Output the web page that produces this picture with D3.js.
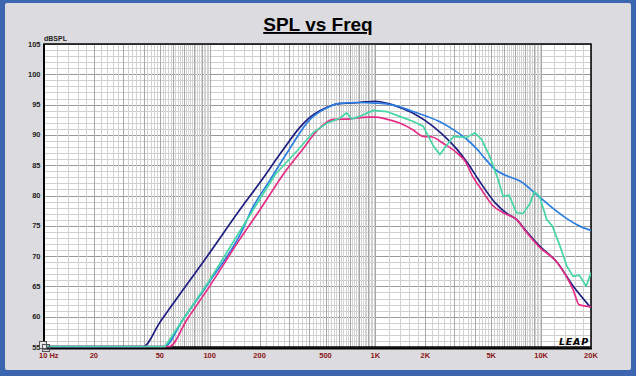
<!DOCTYPE html>
<html><head><meta charset="utf-8">
<script src="https://cdn.jsdelivr.net/npm/d3@7"></script>
<style>html,body{margin:0;padding:0;background:#3c66b0;}svg{display:block;}</style>
</head><body><svg id="c" width="636" height="376"></svg>
<script>
const xTicks = [10,20,50,100,200,500,1000,2000,5000,10000,20000];
const xTickLabels = ["10 Hz","20","50","100","200","500","1K","2K","5K","10K","20K"];
const yTicks = [105,100,95,90,85,80,75,70,65,60,55];
const yTickLabels = ["105","100","95","90","85","80","75","70","65","60","55"];

const navy = [[10,55],[39.6,55],[50,59],[100,70.5],[152,77.6],[200,82],[277,87.5],[350,91.2],[400,92.8],[500,94.4],[600,95.1],[800,95.3],[1000,95.5],[1200,95.1],[1400,94.5],[1700,93.5],[2000,92.3],[2500,90.2],[3100,87.6],[3600,85.3],[4200,82.5],[5300,78.7],[6200,77],[7100,76],[8000,74.3],[9800,71.6],[12500,68.9],[15600,65],[20000,61.4]];
const blue = [[10,55],[53,55],[69,59.5],[100,65.8],[158,74.3],[179,77.6],[230,82.4],[301,87.5],[403,92.5],[500,94.3],[600,95.1],[800,95.3],[1000,95.2],[1200,95],[1400,94.6],[1650,93.9],[2000,93.1],[2500,92],[3000,90.7],[3500,89.4],[4100,87.6],[4600,86],[5300,84.2],[6200,83.2],[7500,82.3],[9400,80.1],[11700,77.9],[14000,76.3],[17100,74.9],[20000,74.2]];
const pink = [[10,55],[56.9,55],[73,59.5],[100,65],[150,72.5],[201,77.6],[291,84.2],[362,87.5],[450,90.8],[555,92.5],[700,92.6],[900,92.9],[1000,92.9],[1150,92.6],[1400,91.9],[1680,90.8],[1940,89.7],[2200,89.6],[2550,88.6],[3100,87],[3500,85.5],[3860,83.1],[4370,80.9],[5100,78.3],[6000,77],[7100,76],[8200,73.8],[9800,71.4],[12500,68.9],[15600,64.4],[17000,61.9],[20000,61.6]];
const teal = [[10,55],[53.6,55],[69,59.5],[100,66],[154,74.3],[183,77.6],[250,83.5],[336,87.3],[420,90.3],[510,91.9],[610,92.7],[670,93.6],[720,92.6],[800,93],[970,94],[1170,93.8],[1400,93],[1680,92.2],[1940,91.4],[2240,88.1],[2450,86.7],[2650,88],[2960,89.7],[3540,89.5],[3990,90.3],[4370,89.2],[4900,86.4],[5500,82.6],[5900,79.8],[6400,80],[7100,77.1],[7800,77],[8600,78.7],[9100,80.6],[9800,79.8],[10800,76],[11700,74.9],[13000,71.6],[14300,68.3],[15600,66.6],[17000,66.8],[18700,65],[20000,67.2]];

const seriesList = [
  {data: navy, color: "#1e1e82", curve: d3.curveMonotoneX},
  {data: blue, color: "#2b7ee0", curve: d3.curveMonotoneX},
  {data: pink, color: "#e62c84", curve: d3.curveMonotoneX},
  {data: teal, color: "#45d6a6", curve: d3.curveLinear}
];

const svg = d3.select("#c");
const L=44, R=591, T=44, B=347;
const x = d3.scaleLog().domain([10,20000]).range([L,R]);
const y = d3.scaleLinear().domain([55,105]).range([B,T]);

// frame
svg.append("rect").attr("x",0).attr("y",0).attr("width",636).attr("height",376).attr("fill","#3c66b0");
svg.append("rect").attr("x",5).attr("y",3).attr("width",626).attr("height",367).attr("rx",2).attr("fill","#dcdce0");

// title
svg.append("text").attr("x",318).attr("y",31).attr("text-anchor","middle")
  .attr("font-family","Liberation Sans, Arial, sans-serif").attr("font-weight","bold").attr("font-size","19px")
  .attr("text-decoration","underline").attr("fill","#000").text("SPL vs Freq");

// plot bg
svg.append("rect").attr("x",L).attr("y",T).attr("width",R-L).attr("height",B-T).attr("fill","#fff");

const g = svg.append("g");
// horizontal grid
for (let v=55; v<=105; v+=1) {
  g.append("line").attr("x1",L).attr("x2",R).attr("y1",Math.round(y(v))+0.5).attr("y2",Math.round(y(v))+0.5)
   .attr("stroke", v%5===0 ? "#9a9a9a" : "#cfcfcf").attr("stroke-width",1);
}
// vertical grid
const vg=[];
for (let dec=10; dec<20000; dec*=10) {
  for (let m=10; m<100; m+=2) {
    const f = dec*m/10;
    if (f>20000) break;
    vg.push({f, major: m%10===0});
  }
}
vg.forEach(d=>{
  const px = Math.round(x(d.f))+0.5;
  g.append("line").attr("x1",px).attr("x2",px).attr("y1",T).attr("y2",B)
   .attr("stroke", d.major ? "#a8a8a8" : "#d2d2d2").attr("stroke-width",1);
});

// border (top/right)
svg.append("rect").attr("x",L).attr("y",T).attr("width",R-L).attr("height",B-T).attr("fill","none").attr("stroke","#000").attr("stroke-width",1.5);
svg.append("line").attr("x1",L).attr("x2",L).attr("y1",T).attr("y2",B+2).attr("stroke","#000").attr("stroke-width",2);
svg.append("line").attr("x1",L-1).attr("x2",R+1).attr("y1",B+1.5).attr("y2",B+1.5).attr("stroke","#000").attr("stroke-width",2);

// curves
svg.append("clipPath").attr("id","pc").append("rect").attr("x",L+1).attr("y",T-1).attr("width",R-L-1).attr("height",B-T+1.5);
const cg = svg.append("g").attr("clip-path","url(#pc)");
seriesList.forEach(s=>{
  const line = d3.line().x(d=>x(d[0])).y(d=>y(Math.max(55,d[1]))-0.3).curve(s.curve);
  cg.append("path").attr("d",line(s.data)).attr("fill","none").attr("stroke",s.color).attr("stroke-width",1.7).attr("stroke-linejoin","round");
});

// y tick labels
yTicks.forEach((v,i)=>{
  svg.append("text").attr("x",40.5).attr("y",y(v)+2.5).attr("text-anchor","end")
   .attr("font-family","Liberation Sans, Arial, sans-serif").attr("font-weight","bold").attr("font-size","7.5px")
   .attr("fill","#222").text(yTickLabels[i]);
});
svg.append("text").attr("x",44).attr("y",40.5).attr("font-family","Liberation Sans, Arial, sans-serif")
  .attr("font-weight","bold").attr("font-size","7px").attr("fill","#222").text("dBSPL");

// x tick labels
xTicks.forEach((v,i)=>{
  const first = i===0;
  svg.append("text").attr("x", first ? 39 : x(v)).attr("y",358).attr("text-anchor", first ? "start" : "middle")
   .attr("font-family","Liberation Sans, Arial, sans-serif").attr("font-weight","bold").attr("font-size","7.5px")
   .attr("fill","#8b1414").text(xTickLabels[i]);
});

// small cursor icon at bottom-left
const ic = svg.append("g").attr("fill","none").attr("stroke","#555").attr("stroke-width",1);
ic.append("rect").attr("x",39.5).attr("y",341.5).attr("width",7).attr("height",7).attr("fill","#e8e8e8");
ic.append("rect").attr("x",42.5).attr("y",344.5).attr("width",7).attr("height",7).attr("fill","none");

// LEAP logo
svg.append("text").attr("x",589).attr("y",345).attr("text-anchor","end")
  .attr("font-family","DejaVu Sans, sans-serif").attr("font-weight","bold").attr("font-style","italic")
  .attr("font-size","9.5px").attr("letter-spacing","0.8px").attr("fill","#000").text("LEAP");
</script></body></html>
